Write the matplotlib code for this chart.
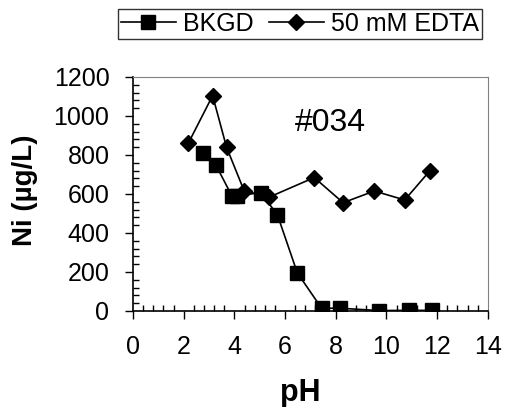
import matplotlib
matplotlib.use("Agg")
from matplotlib import pyplot as plt
from matplotlib.ticker import MultipleLocator

plt.rcParams['font.family'] = ['Liberation Sans', 'DejaVu Sans']

# BKGD series
ph_bkgd = [2.77, 3.26, 3.9, 4.1, 5.04, 5.70, 6.48, 7.44, 8.16, 9.71, 10.9, 11.78]
ni_bkgd = [810, 750, 590, 590, 607, 492, 196, 14, 14, 2, 3, 3]

# 50 mM EDTA series
ph_edta = [2.18, 3.14, 3.69, 4.38, 5.36, 7.15, 8.29, 9.52, 10.72, 11.71]
ni_edta = [860, 1104, 839, 617, 583, 684, 555, 615, 569, 718]

fig = plt.figure(figsize=(5.06, 4.07), dpi=100)
ax = fig.add_axes([0.263, 0.236, 0.701, 0.575])

ax.plot(ph_bkgd, ni_bkgd, color='black', marker='s', markersize=10,
        linewidth=1.2, label='BKGD')
ax.plot(ph_edta, ni_edta, color='black', marker='D', markersize=8.5,
        linewidth=1.2, label='50 mM EDTA')

ax.set_xlim(0, 14)
ax.set_ylim(0, 1200)
ax.xaxis.set_major_locator(MultipleLocator(2))
ax.xaxis.set_minor_locator(MultipleLocator(0.4))
ax.yaxis.set_major_locator(MultipleLocator(200))
ax.yaxis.set_minor_locator(MultipleLocator(40))
ax.tick_params(which='major', direction='out', length=6, width=1, labelsize=18)
ax.tick_params(axis='x', which='major', pad=11)
ax.tick_params(axis='y', which='major', pad=11)
ax.tick_params(which='minor', direction='in', length=4, width=1)

for s in ['top', 'right']:
    ax.spines[s].set_color('#808080')
for s in ['left', 'bottom']:
    ax.spines[s].set_linewidth(1.2)

ax.text(7.8, 964, '#034', fontsize=23, ha='center', va='center')

ax.set_xlabel('pH', fontsize=22, fontweight='bold', va='baseline')
ax.xaxis.set_label_coords(0.47, -0.385)
ax.set_ylabel('Ni (µg/L)', fontsize=20, fontweight='bold', va='center')
ax.yaxis.set_label_coords(-0.304, 0.517)

leg = fig.legend(loc='upper center', bbox_to_anchor=(0.593, 0.978), ncol=2,
                 fontsize=18, frameon=True, fancybox=False, handlelength=2.2,
                 handletextpad=0.3, columnspacing=0.6, borderpad=0.12,
                 borderaxespad=0)
leg.get_frame().set_edgecolor('black')
leg.get_frame().set_linewidth(1)

fig.savefig('out.png', dpi=100)
